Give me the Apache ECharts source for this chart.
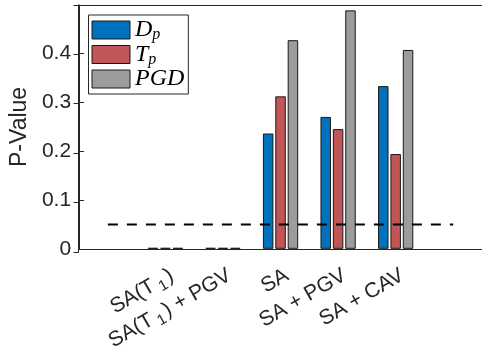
<!DOCTYPE html>
<html>
<head>
<meta charset="utf-8">
<script src="https://cdn.jsdelivr.net/npm/echarts@6/dist/echarts.min.js"></script>
<style>
  html, body { margin: 0; padding: 0; background: #fff; }
  #chart { width: 482px; height: 356px; }
</style>
</head>
<body>
<div id="chart"></div>
<script>
// Predictor sets and their p-values for each intensity measure
const categories = ['SA(T_1)', 'SA(T_1) + PGV', 'SA', 'SA + PGV', 'SA + CAV'];
const dpValues  = [0.002, 0.002, 0.236, 0.270, 0.333];
const tpValues  = [0.002, 0.002, 0.312, 0.245, 0.194];
const pgdValues = [0.002, 0.002, 0.427, 0.488, 0.407];
const seriesNames = ['D_p', 'T_p', 'PGD'];
const yTicks = [0, 0.1, 0.2, 0.3, 0.4];
const threshold = 0.05;

// Empty slots on both sides give the axis its margins
const PAD_L = 'padL', PAD_R = 'padR';
const axisCats = [PAD_L].concat(categories, [PAD_R]);
const padded = arr => [null].concat(arr, [null]);

const axisColor = '#262626';
const sansFont = '"Liberation Sans", Arial, Helvetica, sans-serif';
const serifFont = '"Liberation Serif", "Times New Roman", serif';

function categoryLabel(v) {
  if (v === PAD_L || v === PAD_R) return '';
  if (v.indexOf('_1') < 0) return '{a|' + v + '}';
  const parts = v.split('_1');
  return '{a|' + parts[0] + '}{s|1}{a|' + parts[1] + '}';
}
function legendLabel(name) {
  const parts = name.split('_');
  if (parts.length === 1) return '{m|' + name + '}';
  return '{m|' + parts[0] + '}{s|' + parts[1] + '}';
}
const tickAtCategory = idx => idx > 0 && idx < axisCats.length - 1;

const barColors = ['#0072BD', '#C25555', '#9C9C9C'];
const barData = [dpValues, tpValues, pgdValues];

const chart = echarts.init(document.getElementById('chart'), null, { renderer: 'canvas' });

const option = {
  animation: false,
  backgroundColor: '#fff',
  grid: [
    { left: 78.5, right: -3.5, top: 5, bottom: 103.7, containLabel: false },
    { left: 78.5, right: 0.5, top: 5, bottom: 103.7, containLabel: false }
  ],
  legend: {
    orient: 'vertical',
    left: 88.5,
    top: 15,
    padding: [3, 4, 3, 3],
    itemGap: -0.5,
    itemWidth: 38,
    itemHeight: 18,
    icon: 'rect',
    backgroundColor: '#fff',
    borderColor: axisColor,
    borderWidth: 1,
    borderRadius: 0,
    data: seriesNames,
    formatter: legendLabel,
    itemStyle: { borderColor: '#1a1a1a', borderWidth: 1 },
    textStyle: {
      lineHeight: 22,
      rich: {
        m: { fontFamily: serifFont, fontStyle: 'italic', fontSize: 24, color: '#000', lineHeight: 22, height: 22 },
        s: { fontFamily: serifFont, fontStyle: 'italic', fontSize: 16, color: '#000', lineHeight: 12, height: 12, padding: [10, 0, 0, 0] }
      }
    }
  },
  xAxis: [
    {
      type: 'category',
      gridIndex: 0,
      data: axisCats,
      position: 'bottom',
      axisLine: { lineStyle: { color: axisColor, width: 1 } },
      axisTick: { inside: true, length: 4, alignWithLabel: true, interval: tickAtCategory, lineStyle: { color: axisColor } },
      axisLabel: {
        interval: 0,
        rotate: 30,
        align: 'right',
        verticalAlign: 'top',
        margin: 14,
        formatter: categoryLabel,
        rich: {
          a: { fontFamily: sansFont, fontSize: 21, color: axisColor, lineHeight: 26 },
          s: { fontFamily: sansFont, fontSize: 15, color: axisColor, lineHeight: 14, padding: [12, 2, 0, 4] }
        }
      },
      splitLine: { show: false }
    },
    {
      type: 'category',
      gridIndex: 0,
      data: axisCats,
      position: 'top',
      axisLine: { lineStyle: { color: axisColor, width: 1 } },
      axisTick: { inside: true, length: 4, alignWithLabel: true, interval: tickAtCategory, lineStyle: { color: axisColor } },
      axisLabel: { show: false },
      splitLine: { show: false }
    },
    { type: 'value', gridIndex: 1, show: false, min: 0, max: 1 }
  ],
  yAxis: [
    {
      type: 'value',
      gridIndex: 0,
      min: yTicks[0],
      max: 0.499,
      interval: yTicks[1] - yTicks[0],
      name: 'P-Value',
      nameLocation: 'middle',
      nameGap: 44,
      nameTextStyle: { fontFamily: sansFont, fontSize: 23, color: axisColor },
      axisLine: { show: true, lineStyle: { color: axisColor, width: 1 } },
      axisTick: { show: true, inside: true, length: 5, lineStyle: { color: axisColor } },
      axisLabel: {
        showMaxLabel: false,
        margin: 8,
        fontFamily: sansFont,
        fontSize: 21,
        color: axisColor,
        formatter: v => (yTicks.indexOf(Math.round(v * 10) / 10) >= 0 ? String(Math.round(v * 10) / 10) : '')
      },
      splitLine: { show: false }
    },
    {
      type: 'value',
      gridIndex: 1,
      position: 'right',
      min: yTicks[0],
      max: 0.499,
      interval: yTicks[1] - yTicks[0],
      axisLine: { show: true, lineStyle: { color: axisColor, width: 1 } },
      axisTick: { show: true, inside: true, length: 5, lineStyle: { color: axisColor } },
      axisLabel: { show: false },
      splitLine: { show: false }
    }
  ],
  series: seriesNames.map((name, i) => ({
    name: name,
    type: 'bar',
    xAxisIndex: 0,
    yAxisIndex: 0,
    barWidth: 10.5,
    barGap: '18%',
    data: padded(barData[i]),
    itemStyle: { color: barColors[i], borderColor: '#1a1a1a', borderWidth: 1 },
    z: 2
  })).concat([{
    name: 'threshold',
    type: 'line',
    xAxisIndex: 0,
    yAxisIndex: 0,
    data: axisCats.map(() => threshold),
    symbol: 'none',
    silent: true,
    lineStyle: { color: '#000', width: 2, type: [10, 9] },
    z: 5
  }])
};

chart.setOption(option);
</script>
</body>
</html>
